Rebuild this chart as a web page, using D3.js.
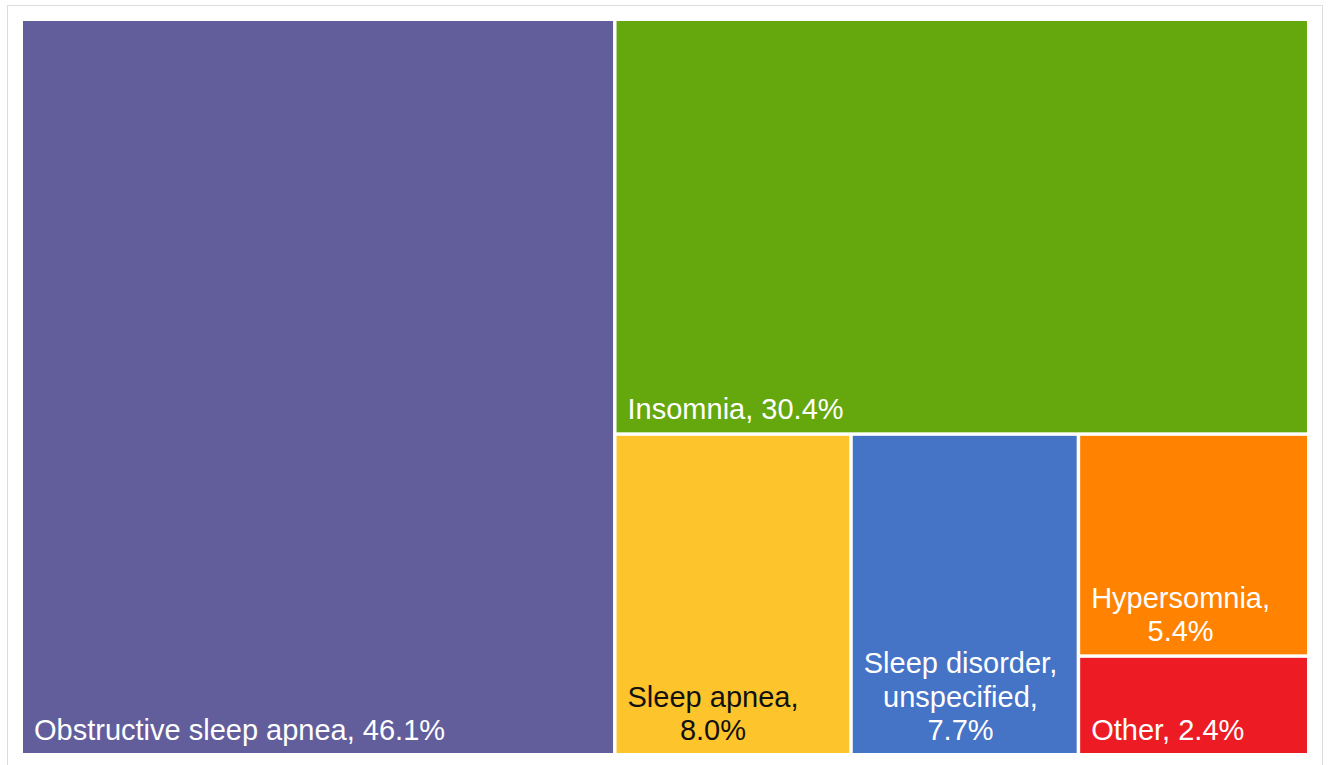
<!DOCTYPE html>
<html>
<head>
<meta charset="utf-8">
<script src="https://cdn.jsdelivr.net/npm/d3@7"></script>
<style>
  body { margin: 0; background: #fff; }
  svg { display: block; }
</style>
</head>
<body>
<svg width="1330" height="765"></svg>
<script>
const categorias = ['Obstructive sleep apnea', 'Insomnia', 'Sleep apnea', 'Sleep disorder, unspecified', 'Hypersomnia', 'Other'];
const percentuais = [46.1, 30.4, 8.0, 7.7, 5.4, 2.4];
const cores = ['#625e9c', '#65a80e', '#fec42c', '#4573c6', '#ff8200', '#ed1c24'];
const corTexto = ['#fff', '#fff', '#111', '#fff', '#fff', '#fff'];

const svg = d3.select('svg');
const largura = +svg.attr('width');
const altura = +svg.attr('height');

// moldura cinza clara
svg.append('rect')
    .attr('x', 7.5).attr('y', 5.5)
    .attr('width', 1315).attr('height', 770)
    .attr('fill', 'none')
    .attr('stroke', '#dcdcdc');

const marg = { cima: 21, direita: 23, baixo: 12, esquerda: 23 };

const dados = categorias.map((c, i) => ({ nome: c, valor: percentuais[i], cor: cores[i], texto: corTexto[i] }));

const raiz = d3.hierarchy({ children: dados })
    .sum(d => d.valor || 0);

d3.treemap()
    .tile(d3.treemapSquarify.ratio(1))
    .size([largura - marg.esquerda - marg.direita, altura - marg.cima - marg.baixo])
    .paddingInner(3.5)
    .round(false)(raiz);

const g = svg.append('g')
    .attr('transform', `translate(${marg.esquerda},${marg.cima})`);

const folhas = g.selectAll('g.folha').data(raiz.leaves())
    .enter().append('g')
        .attr('class', 'folha');

folhas.append('rect')
    .attr('x', d => d.x0)
    .attr('y', d => d.y0)
    .attr('width', d => d.x1 - d.x0)
    .attr('height', d => d.y1 - d.y0)
    .attr('fill', d => d.data.cor);

const tamFonte = 29;
const entreLinhas = 33.5;

folhas.each(function(d) {
    const el = d3.select(this);
    const rotulo = `${d.data.nome}, ${d.data.valor.toFixed(1)}%`;
    const maxW = (d.x1 - d.x0) - 20;
    const t = el.append('text')
        .attr('font-family', 'Liberation Sans, Arial, sans-serif')
        .attr('font-size', tamFonte)
        .attr('fill', d.data.texto);
    // quebra gulosa de palavras
    const palavras = rotulo.split(' ');
    const linhas = [];
    let atual = '';
    const medir = s => { t.text(s); return t.node().getComputedTextLength(); };
    palavras.forEach(p => {
        const teste = atual ? atual + ' ' + p : p;
        if (atual && medir(teste) > maxW) {
            linhas.push(atual);
            atual = p;
        } else {
            atual = teste;
        }
    });
    linhas.push(atual);
    const larguras = linhas.map(medir);
    const blocoW = d3.max(larguras);
    t.text(null);
    const xc = d.x0 + 11 + blocoW / 2;
    const base = d.y1 - 13;
    linhas.forEach((l, i) => {
        t.append('tspan')
            .attr('x', linhas.length > 1 ? xc : d.x0 + 11)
            .attr('text-anchor', linhas.length > 1 ? 'middle' : 'start')
            .attr('y', base - (linhas.length - 1 - i) * entreLinhas)
            .text(l);
    });
});
</script>
</body>
</html>
